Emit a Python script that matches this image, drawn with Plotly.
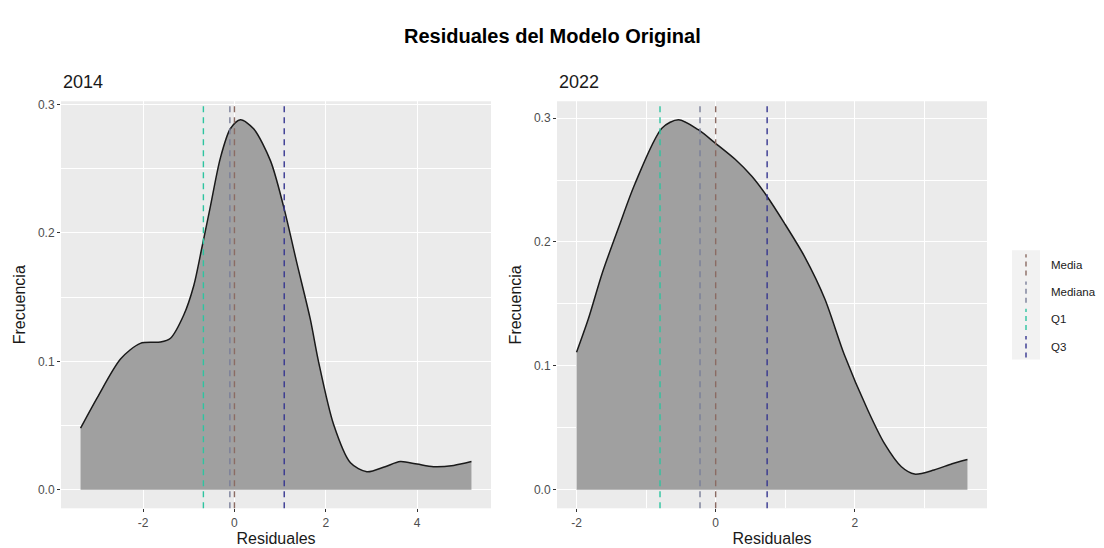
import plotly.graph_objects as go

W, H = 1104, 548

# densidad de residuales
res_2014 = [-3.37, -3.0, -2.49, -2.06, -1.62, -1.40, -1.11, -0.89, -0.71, -0.53, -0.31, -0.09, 0.13,
            0.42, 0.79, 1.08, 1.37, 1.66, 1.84, 2.17, 2.54, 2.9, 3.3, 3.63, 4.0, 4.36, 4.8, 5.19]
dens_2014 = [0.048, 0.072, 0.102, 0.114, 0.115, 0.118, 0.136, 0.159, 0.189, 0.220, 0.258, 0.281, 0.288,
             0.281, 0.256, 0.220, 0.176, 0.133, 0.100, 0.051, 0.021, 0.014, 0.018, 0.022, 0.020, 0.018,
             0.019, 0.022]

res_2022 = [-2.0, -1.83, -1.63, -1.39, -1.16, -0.77, -0.535, -0.25, -0.01, 0.28, 0.52, 0.73, 0.99,
            1.28, 1.57, 1.85, 2.19, 2.43, 2.67, 2.86, 3.14, 3.4, 3.62]
dens_2022 = [0.111, 0.138, 0.175, 0.2125, 0.247, 0.292, 0.2986, 0.2906, 0.280, 0.2667, 0.253, 0.2375,
             0.215, 0.188, 0.154, 0.109, 0.064, 0.037, 0.0186, 0.0127, 0.016, 0.021, 0.0244]

stat_names = ["Media", "Mediana", "Q1", "Q3"]
stat_colors = ["#8b6b63", "#7a7f99", "#2ec4a0", "#363690"]
stats_2014 = [0.0, -0.10, -0.68, 1.09]
stats_2022 = [0.0, -0.225, -0.80, 0.74]

xticks_2014 = [-2, 0, 2, 4]
xticks_2022 = [-2, 0, 2]
yticks = [0.0, 0.1, 0.2, 0.3]

GRID = dict(showgrid=True, gridcolor="white", gridwidth=1.3, zeroline=False,
            ticks="outside", ticklen=3, tickwidth=1, tickcolor="#333333",
            tickfont=dict(size=12, color="#4d4d4d"), showline=False)


def px(x, y):
    return x / W, 1 - y / H


fig = go.Figure()

panels = [
    ("2014", res_2014, dens_2014, stats_2014, xticks_2014, "x", "y", 61, 491),
    ("2022", res_2022, dens_2022, stats_2022, xticks_2022, "x2", "y2", 557, 987),
]

for i, (year, xs, ys, stats, xt, xa, ya, x0, x1) in enumerate(panels):
    fig.add_trace(go.Scatter(x=xs, y=ys, mode="lines", fill="tozeroy",
                             fillcolor="#a0a0a0",
                             line=dict(color="#1a1a1a", width=1.5, shape="spline", smoothing=0.8),
                             xaxis=xa, yaxis=ya, showlegend=False, hoverinfo="skip"))
    for v, c in zip(stats, stat_colors):
        fig.add_shape(type="line", xref=xa, yref=ya + " domain", x0=v, x1=v, y0=0, y1=1,
                      line=dict(color=c, width=1.4, dash="6px,5px"))

    lo, hi = min(xs), max(xs)
    pad = (hi - lo) * 0.05
    ymax = max(ys)
    ypad = ymax * 0.05
    minor_x = [t + 1 for t in range(int(lo) - 2, int(hi) + 2, 2)]
    suffix = "" if i == 0 else "2"
    fig.layout["xaxis" + suffix] = dict(
        GRID, domain=[x0 / W, x1 / W], range=[lo - pad, hi + pad], anchor=ya,
        tickmode="array", tickvals=xt, ticktext=[str(t) for t in xt],
        minor=dict(tickmode="array", tickvals=minor_x, showgrid=True, gridcolor="white", gridwidth=0.6, ticks=""),
        title=dict(text="Residuales", font=dict(size=16, color="#1a1a1a"), standoff=4))
    fig.layout["yaxis" + suffix] = dict(
        GRID, domain=[1 - 508 / H, 1 - 98 / H], range=[-ypad, ymax + ypad], anchor=xa,
        tickmode="array", tickvals=yticks, ticktext=["%.1f" % t for t in yticks],
        minor=dict(tickmode="array", tickvals=[0.05, 0.15, 0.25], showgrid=True, gridcolor="white", gridwidth=0.6, ticks=""),
        title=dict(text="Frecuencia", font=dict(size=16, color="#1a1a1a"), standoff=8))
    fig.add_annotation(text=year, xref="paper", yref="paper", x=x0 / W, y=1 - 91 / H,
                       xanchor="left", yanchor="bottom", showarrow=False,
                       font=dict(size=18, color="#1a1a1a"))

fig.add_annotation(text="<b>Residuales del Modelo Original</b>", xref="paper", yref="paper",
                   x=0.5, y=1 - 32 / H, xanchor="center", yanchor="middle", showarrow=False,
                   font=dict(size=20, color="#000000"))

# leyenda manual con claves verticales discontinuas
kx0, kx1 = 1012, 1040
ky0, row = 248, 27.5
bx0, by0 = px(kx0, ky0)
bx1, by1 = px(kx1, ky0 + row * len(stat_names))
fig.add_shape(type="rect", xref="paper", yref="paper", x0=bx0, x1=bx1, y0=by1, y1=by0,
              fillcolor="#f2f2f2", line=dict(width=0))
for j, (name, c) in enumerate(zip(stat_names, stat_colors)):
    top = ky0 + row * j
    lx, ly0 = px(1026, top + 4)
    _, ly1 = px(1026, top + row - 2)
    fig.add_shape(type="line", xref="paper", yref="paper", x0=lx, x1=lx, y0=ly1, y1=ly0,
                  line=dict(color=c, width=1.4, dash="5px,4px"))
    tx, ty = px(1049, top + row / 2 + 1)
    fig.add_annotation(text=name, xref="paper", yref="paper", x=tx, y=ty, xanchor="left",
                       yanchor="middle", showarrow=False, font=dict(size=11.5, color="#1a1a1a"))

fig.update_layout(width=W, height=H, margin=dict(l=0, r=0, t=0, b=0),
                  plot_bgcolor="#ebebeb", paper_bgcolor="white",
                  font=dict(family="Liberation Sans, Arial, sans-serif"), showlegend=False)

fig.write_html("out.html", config={"displayModeBar": False},
               post_script="document.body.style.margin='0';")
